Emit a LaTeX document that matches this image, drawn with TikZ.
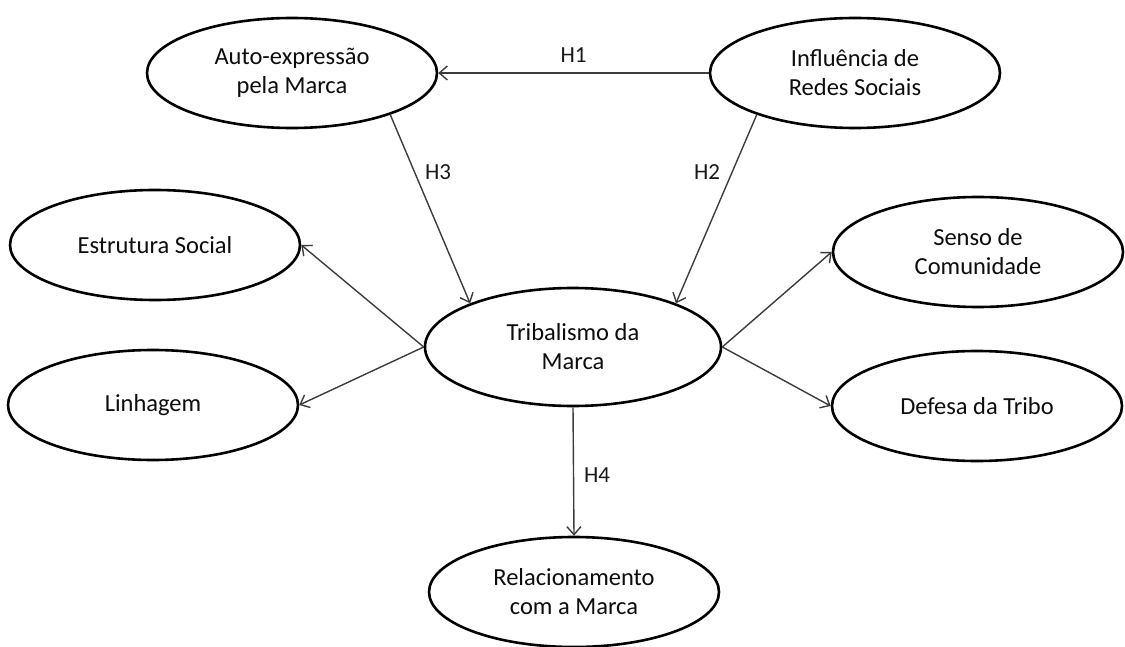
\documentclass[tikz,border=0pt]{standalone}
\usepackage{fontspec}
\setmainfont{Carlito}
\usetikzlibrary{shapes.geometric,arrows.meta}
\definecolor{edgegray}{HTML}{3C3C3C}
\tikzset{
  construct/.style={ellipse, draw=black, line width=2.6pt, minimum width=290pt, minimum height=110pt,
    inner sep=0pt, align=center, font=\fontsize{24.5}{29}\selectfont, text=black!95},
  link/.style={draw=edgegray, line width=1.4pt, -{Straight Barb[length=8pt,width=14pt,line width=1.4pt]}},
  hlabel/.style={font=\fontsize{23}{26}\selectfont, text=black!90}
}
\begin{document}
\begin{tikzpicture}[x=1pt,y=-1pt]
\useasboundingbox[fill=white] (0,0) rectangle (1125,647);
\node[construct] (auto) at (292,73) {Auto-expressão\\pela Marca};
\node[construct] (infl) at (855,73) {Influência de\\Redes Sociais};
\node[construct] (estr) at (155,245) {Estrutura Social};
\node[construct] (senso) at (978,252) {Senso de\\Comunidade};
\node[construct, minimum width=296pt, minimum height=118pt] (trib) at (573,347) {Tribalismo da\\Marca};
\node[construct] (lin) at (153,405) {Linhagem};
\node[construct] (def) at (977,406) {Defesa da Tribo};
\node[construct] (rel) at (574,592) {Relacionamento\\com a Marca};

\draw[link] (infl.west) -- node[hlabel, above=6pt] (h1) {H1} (auto.east);
\draw[link] (auto.-23) -- (trib.157);
\node[hlabel] (h3) at (438,172) {H3};
\draw[link] (infl.-157) -- (trib.23);
\node[hlabel] (h2) at (707,172) {H2};
\draw[link] (trib.west) -- (estr.east);
\draw[link] (trib.west) -- (lin.east);
\draw[link] (trib.east) -- (senso.west);
\draw[link] (trib.east) -- (def.west);
\draw[link] (trib.south) -- (rel.north);
\node[hlabel] (h4) at (597,475) {H4};
\end{tikzpicture}
\end{document}
